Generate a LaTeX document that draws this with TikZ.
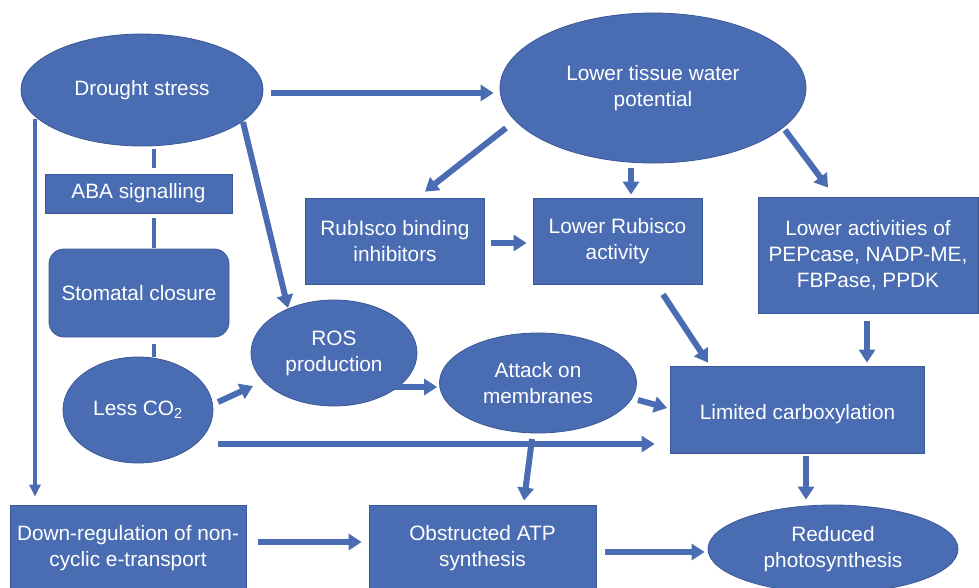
\documentclass[tikz,border=0pt]{standalone}
\usepackage{fontspec}
\setmainfont{Liberation Sans}
\usetikzlibrary{shapes.geometric,arrows.meta,calc}
\definecolor{boxblue}{RGB}{74,108,178}
\definecolor{edgeblue}{RGB}{58,88,150}
\begin{document}
\begin{tikzpicture}[x=1pt,y=-1pt,
  base/.style={fill=boxblue,draw=edgeblue,line width=0.8pt,text=white,
    align=center,inner sep=0pt,font=\fontsize{20.8}{26}\selectfont},
  oval/.style={base,ellipse},
  box/.style={base,rectangle},
  blk/.style={draw=boxblue,line width=6pt,-{Triangle[width=16pt,length=13pt]}},
  thin/.style={draw=boxblue,line width=3.5pt,-{Triangle[width=11pt,length=12pt]}},
  link/.style={draw=boxblue,line width=4.5pt}]
\useasboundingbox (0,0) rectangle (979,587);
\clip (0,0) rectangle (979,587);

% nodes
\node[oval,minimum width=242,minimum height=112] (drought) at (142,90) {Drought stress};
\node[oval,minimum width=306,minimum height=150] (water) at (653,88) {Lower tissue water\\potential};
\node[box,minimum width=187,minimum height=39] (aba) at (138.5,193.5) {ABA signalling};
\node[box,rounded corners=15,minimum width=180,minimum height=88] (stoma) at (139,293) {Stomatal closure};
\node[oval,minimum width=150,minimum height=106] (lessco) at (138,410) {Less CO\textsubscript{2}};
\node[box,minimum width=179,minimum height=86] (rbi) at (395,241) {RubIsco binding\\inhibitors};
\node[box,minimum width=169,minimum height=86] (lra) at (617.5,241) {Lower Rubisco\\activity};
\node[box,minimum width=220,minimum height=116] (pep) at (868,255) {Lower activities of\\PEPcase, NADP-ME,\\FBPase, PPDK};
\node[oval,minimum width=166,minimum height=106] (ros) at (334,353) {ROS\\production};
\node[oval,minimum width=197,minimum height=100] (attack) at (538,383) {Attack on\\membranes};
\node[box,minimum width=254,minimum height=87] (carb) at (797.5,409.5)
  {\raisebox{0pt}[\dimexpr\height+9pt\relax][\depth]{Limited carboxylation}};
\node[box,minimum width=236,minimum height=86] (downreg) at (128,548) {Down-regulation of non-\\cyclic e-transport};
\node[box,minimum width=227,minimum height=86] (atp) at (482.5,548) {Obstructed ATP\\synthesis};
\node[oval,minimum width=250,minimum height=88] (reduced) at (833,549) {Reduced\\photosynthesis};

% plain links down the ABA chain
\draw[link] ($(drought.south)+(12,3)$) -- ($(aba.north)+(15.5,-6)$);
\draw[link] ($(aba.south)+(15.5,5)$) -- ($(stoma.north)+(15,-1)$);
\draw[link] ($(stoma.south)+(15,7)$) -- ($(lessco.north)+(16,0)$);

% thin arrow down the left side
\draw[thin] ($(drought.center)+(-107,29)$) -- ($(downreg.north)+(-93,-8)$);

% block arrows
\draw[blk] ($(drought.east)+(8,3)$) -- ($(water.west)+(-6,5)$);
\draw[blk] ($(water.center)+(-147,40)$) -- ($(rbi.north)+(30,-6)$);
\draw[blk] ($(water.south)+(-22,5)$) -- ($(lra.north)+(13.5,-3)$);
\draw[blk] ($(water.center)+(132,42)$) -- ($(pep.north)+(-40,-9)$);
\draw[blk] ($(rbi.east)+(6,2)$) -- ($(lra.west)+(-6,2)$);
\draw[blk] ($(lra.south)+(45.5,10)$) -- ($(carb.north)+(-89.5,-3)$);
\draw[blk] ($(pep.south)+(-1,8)$) -- ($(carb.north)+(69.5,-3)$);
\draw[blk] ($(drought.center)+(101,32)$) -- ($(ros.center)+(-46,-45)$);
\draw[blk] ($(lessco.center)+(80,-8)$) -- ($(ros.center)+(-81,33)$);
\draw[blk] ($(ros.center)+(61,34)$) -- ($(attack.west)+(-2,4)$);
\draw[blk] ($(attack.center)+(100,17)$) -- ($(carb.west)+(-3,-1.5)$);
\draw[blk] ($(lessco.center)+(80,34)$) -- ($(carb.west)+(-15.5,34.5)$);
\draw[blk] ($(attack.center)+(-6,56)$) -- ($(atp.north)+(41.5,-4)$);
\draw[blk] ($(carb.south)+(8.5,3)$) -- ($(reduced.north)+(-27,-5)$);
\draw[blk] ($(downreg.east)+(12,-6)$) -- ($(atp.west)+(-7,-6)$);
\draw[blk] ($(atp.east)+(9,4)$) -- ($(reduced.west)+(-3,3)$);
\end{tikzpicture}
\end{document}
